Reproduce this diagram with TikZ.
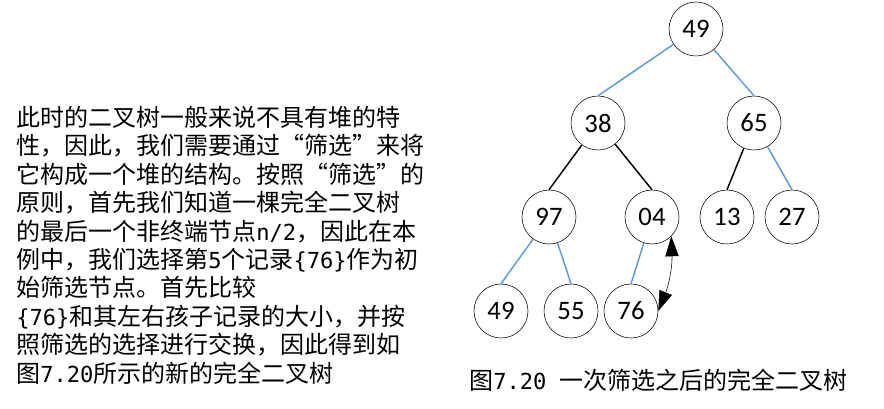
\documentclass[tikz,border=0pt]{standalone}
\usepackage{fontspec}
\setmainfont{Carlito}
\newfontfamily\cjk{Noto Sans CJK SC}
\newfontfamily\lat{DejaVu Sans Mono}[Scale=0.92]
\usetikzlibrary{arrows.meta}
\definecolor{edgeblue}{HTML}{5B9BD5}

\begin{document}
\begin{tikzpicture}[x=0.75pt, y=-0.75pt, >={Triangle[length=15pt,width=10pt]},
		key/.style={circle, draw, thin, minimum size=40.5pt, inner sep=0pt, font=\fontsize{20pt}{20pt}\selectfont},
		blueedge/.style={edgeblue, line width=1.1pt},
		blackedge/.style={black, line width=1.1pt}]
		
		\useasboundingbox (0,0) rectangle (884,408);
		
		% keys
		\node[key] (r49) at (696,29) {49};
		\node[key] (a38) at (598,123) {38};
		\node[key] (a65) at (754,123) {65};
		\node[key] (b97) at (549,217) {97};
		\node[key] (b04) at (652,217) {04};
		\node[key] (b13) at (727,217) {13};
		\node[key] (b27) at (792,217) {27};
		\node[key] (c49) at (501,311) {49};
		\node[key] (c55) at (571,311) {55};
		\node[key] (c76) at (631,311) {76};
		
		% edges
		\draw[blueedge] (r49) -- (a38.north);
		\draw[blueedge] (r49) -- (a65.north);
		\draw[blackedge] (a38) -- (b97.north);
		\draw[blackedge] (a38) -- (b04.north);
		\draw[blackedge] (a65) -- (b13.north);
		\draw[blueedge] (a65) -- (b27.north);
		\draw[blueedge] (b97) -- (c49.north);
		\draw[blueedge] (b97) -- (c55.north);
		\draw[blueedge] (b04) -- (c76.north);
		
		% swap of 04 and 76
		\draw[<->, thin] (c76.east) to[bend right=12] (b04.-45);
		
		% explanation on the left
		\node[anchor=north west, align=left, inner sep=0pt, font=\cjk\fontsize{18pt}{21.3pt}\selectfont] (txt) at (16,106)
		{此时的二叉树一般来说不具有堆的特\\
		性，因此，我们需要通过“筛选”来将\\
		它构成一个堆的结构。按照“筛选”的\\
		原则，首先我们知道一棵完全二叉树\\
		的最后一个非终端节点{\lat n/2}，因此在本\\
		例中，我们选择第{\lat 5}个记录{\lat\{76\}}作为初\\
		始筛选节点。首先比较\\
		{\lat\{76\}}和其左右孩子记录的大小，并按\\
		照筛选的选择进行交换，因此得到如\\
		图{\lat 7.20}所示的新的完全二叉树};
		
		% caption
		\node[anchor=west, inner sep=0pt, font=\cjk\fontsize{18pt}{21.3pt}\selectfont] (cap) at (469,380)
		{图{\lat 7.20 }一次筛选之后的完全二叉树};
		
	\end{tikzpicture}
\end{document}
